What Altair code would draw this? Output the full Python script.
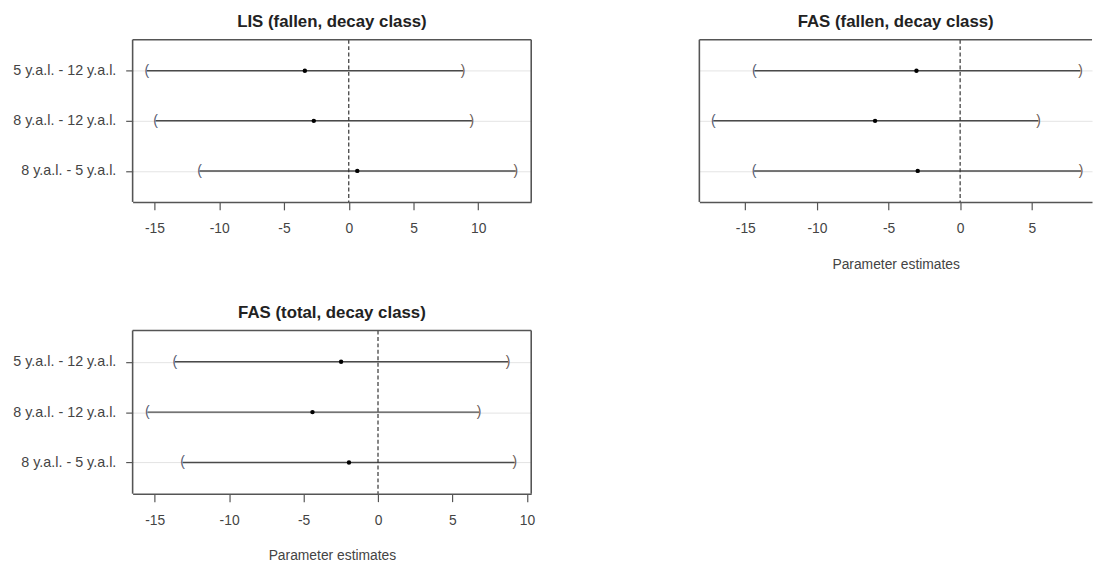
import altair as alt
import pandas as pd

# ---- data ----
rows = ["5 y.a.l. - 12 y.a.l.", "8 y.a.l. - 12 y.a.l.", "8 y.a.l. - 5 y.a.l."]

lis_est = [-3.39, -2.70, 0.66]
lis_lower = [-15.60, -14.92, -11.53]
lis_upper = [8.83, 9.51, 12.90]

fas_fallen_est = [-3.05, -5.94, -2.96]
fas_fallen_lower = [-14.37, -17.24, -14.39]
fas_fallen_upper = [8.40, 5.47, 8.44]

fas_total_est = [-2.48, -4.40, -1.95]
fas_total_lower = [-13.65, -15.49, -13.12]
fas_total_upper = [8.74, 6.79, 9.18]

tick_values = [-15, -10, -5, 0, 5, 10]

titles = ["LIS (fallen, decay class)", "FAS (fallen, decay class)", "FAS (total, decay class)"]
x_title = "Parameter estimates"

FONT = "Liberation Sans"
FRAME = "#555555"


def make_panel(title, est, lo, hi, domain, width, height, show_labels, xtitle, open_right):
    df = pd.DataFrame({"comparison": rows, "estimate": est, "lower": lo, "upper": hi})
    one = pd.DataFrame({"zero": [0]})
    ticks = [v for v in tick_values if domain[0] <= v <= domain[1]]
    xscale = alt.Scale(domain=domain, nice=False, zero=False)
    xaxis = alt.Axis(values=ticks, tickSize=8, labelPadding=12, labelFontSize=14,
                     labelExpr="replace(datum.label, '\u2212', '-')",
                     grid=False, titleFontSize=14, titleFontWeight="normal",
                     titlePadding=22, labelFlush=False, labelOverlap=False,
                     domain=True)
    if show_labels:
        yaxis = alt.Axis(labels=True, ticks=True, tickSize=7, labelPadding=10,
                         labelFontSize=14.5, grid=True, gridColor="#e4e4e4",
                         gridWidth=1, domain=False)
    else:
        yaxis = alt.Axis(labels=False, ticks=False, grid=True, gridColor="#e4e4e4",
                         gridWidth=1, domain=False)

    def xe(field):
        return alt.X(field, scale=xscale, axis=xaxis, title=xtitle)

    y = alt.Y("comparison:N", sort=rows, scale=alt.Scale(type="point", padding=0.62),
              axis=yaxis, title=None)

    base = alt.Chart(df)
    ci = base.mark_rule(color="#4a4a4a", strokeWidth=1.5).encode(x=xe("lower:Q"), x2="upper:Q", y=y)
    zero = alt.Chart(one).mark_rule(color="#333333", strokeWidth=1.2,
                                    strokeDash=[4, 2.5]).encode(x=xe("zero:Q"))
    left = base.mark_text(text="(", fontSize=14, color="#555a70", font=FONT).encode(x=xe("lower:Q"), y=y)
    right = base.mark_text(text=")", fontSize=14, color="#6a5a55", font=FONT).encode(x=xe("upper:Q"), y=y)
    pts = base.mark_circle(size=20, color="black", opacity=1).encode(x=xe("estimate:Q"), y=y)

    # plot frame (left, top and, unless the panel runs off the page, right)
    frame = [
        alt.Chart(one).mark_rule(color=FRAME, strokeWidth=1.6).encode(
            x=alt.value(0), x2=alt.value(width), y=alt.value(0)),
        alt.Chart(one).mark_rule(color=FRAME, strokeWidth=1.6).encode(
            x=alt.value(0), y=alt.value(0), y2=alt.value(height)),
    ]
    if not open_right:
        frame.append(alt.Chart(one).mark_rule(color=FRAME, strokeWidth=1.6).encode(
            x=alt.value(width), y=alt.value(0), y2=alt.value(height)))

    layers = [ci, zero, left, right, pts] + frame
    ch = alt.layer(*layers).properties(
        width=width, height=height,
        title=alt.TitleParams(text=title, fontSize=17, fontWeight="bold", color="#222222",
                              offset=8, anchor="middle", font=FONT),
    )
    return ch


p1 = make_panel(titles[0], lis_est, lis_lower, lis_upper, [-16.69, 14.09], 403, 164, True, None, False)
p2 = make_panel(titles[1], fas_fallen_est, fas_fallen_lower, fas_fallen_upper, [-18.21, 9.21], 397, 164, False, x_title, True)
p3 = make_panel(titles[2], fas_total_est, fas_total_lower, fas_total_upper, [-16.48, 10.29], 403, 165, True, x_title, False)

top = alt.hconcat(p1, p2, spacing=166)
chart = alt.vconcat(top, p3, spacing=31).properties(
    padding={"left": 4, "top": 1, "right": 0, "bottom": 0}
).configure(font=FONT).configure_view(
    stroke="transparent"
).configure_axis(
    domainColor=FRAME, domainWidth=1.6, tickColor=FRAME, tickWidth=1.2,
    labelColor="#444444", titleColor="#444444", labelFont=FONT, titleFont=FONT
)

chart.save("out.html", embed_options={"renderer": "svg", "actions": False})
